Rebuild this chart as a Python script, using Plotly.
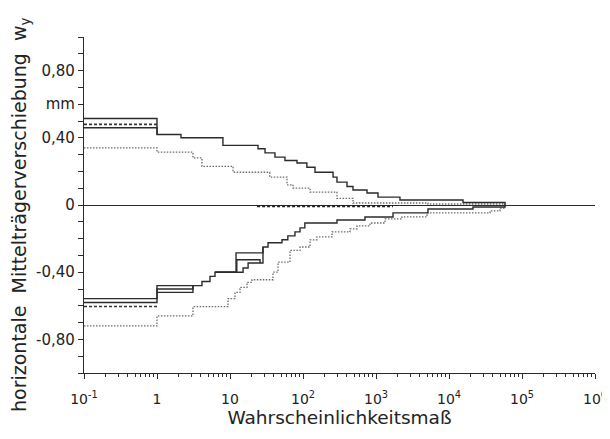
import plotly.graph_objects as go

# ---------------- data ----------------
# upper envelope, solid main curve
up_solid_x = [0.1, 1, 2.13, 8.0, 24.2, 30.2, 41.3, 56.6, 82.8, 113, 146, 258, 292, 401, 484, 753, 1065, 2130, 15560, 58500]
up_solid_y = [0.46, 0.42, 0.40, 0.355, 0.335, 0.31, 0.285, 0.265, 0.25, 0.225, 0.195, 0.166, 0.136, 0.11, 0.089, 0.071, 0.047, 0.03, 0.015, 0.0]
# upper envelope, second solid curve (differs only at start)
up_solid2_x = [0.1, 1]
up_solid2_y = [0.515, 0.42]
# upper envelope, dark dotted (start only)
up_dot2_x = [0.1, 1]
up_dot2_y = [0.48, 0.48]
# upper envelope, dotted curve
up_dot_x = [0.1, 1, 3.11, 4.13, 11.0, 35, 60.4, 73, 125, 292, 484, 5150, 58500]
up_dot_y = [0.34, 0.315, 0.28, 0.23, 0.195, 0.166, 0.12, 0.10, 0.077, 0.04, 0.012, 0.006, 0.0]

# lower envelope, solid main curve
lo_solid_x = [0.1, 1, 4.13, 5.32, 6.23, 15.1, 17.7, 28.3, 33.2, 51.5, 62, 77.6, 91, 106, 292, 706, 1710, 5150, 21300, 58500]
lo_solid_y = [-0.557, -0.48, -0.455, -0.425, -0.40, -0.375, -0.345, -0.25, -0.225, -0.207, -0.184, -0.16, -0.136, -0.107, -0.089, -0.071, -0.047, -0.024, -0.012, 0.0]
# lower envelope, second / third curves (deviating pieces)
lo_solid2_x = [0.1, 1, 3.11, None, 6.23, 12.1, 28.3]
lo_solid2_y = [-0.58, -0.50, -0.48, None, -0.40, -0.285, -0.25]
lo_solid3_x = [1, 3.11, None, 6.23, 12.4, 25.8]
lo_solid3_y = [-0.52, -0.48, None, -0.40, -0.326, -0.345]
lo_dot2_x = [0.1, 1]
lo_dot2_y = [-0.604, -0.604]
# lower envelope, dotted curve
lo_dot_x = [0.1, 1, 3.11, 9.4, 11.7, 13.7, 17.1, 20.0, 38.8, 45.5, 66.4, 91, 125, 155, 250, 440, 550, 828, 1330, 2270, 5000, 36500, 50000, 58500]
lo_dot_y = [-0.72, -0.66, -0.605, -0.557, -0.52, -0.49, -0.46, -0.445, -0.40, -0.34, -0.27, -0.25, -0.207, -0.19, -0.16, -0.142, -0.124, -0.107, -0.083, -0.071, -0.047, -0.035, -0.018, 0.0]
# dark dotted curve lying just under the zero line
near_zero_x = [23.5, 1710]
near_zero_y = [-0.008, -0.008]

# axis ticks
x_major = [0.1, 1, 10, 100, 1e3, 1e4, 1e5, 1e6]
x_labels = ["10<sup>-1</sup>", "1", "10", "10<sup>2</sup>", "10<sup>3</sup>",
            "10<sup>4</sup>", "10<sup>5</sup>", "10<sup>6</sup>"]
y_ticks = [round(-1 + 0.1 * i, 1) for i in range(21)]
y_label_map = {0.8: "0,80", 0.6: "mm", 0.4: "0,40", 0.0: "0", -0.4: "-0,40", -0.8: "-0,80"}
x_title = "Wahrscheinlichkeitsmaß"
y_title = "horizontale  Mittelträgerverschiebung  w<sub>y</sub>"

# ---------------- figure ----------------
INK = "#2b2b2b"
DOT = "#6a6a6a"
TXT = "#222222"
FONT = "DejaVu Sans"

fig = go.Figure()


def add(x, y, color, width, dash):
    fig.add_trace(go.Scatter(x=x, y=y, mode="lines", line_shape="hv",
                             line=dict(color=color, width=width, dash=dash),
                             showlegend=False, hoverinfo="skip", connectgaps=False))


add(up_dot_x, up_dot_y, DOT, 1.3, "1.5px,1.5px")
add(lo_dot_x, lo_dot_y, DOT, 1.3, "1.5px,1.5px")
add(up_dot2_x, up_dot2_y, "#333333", 1.6, "3px,2px")
add(lo_dot2_x, lo_dot2_y, "#333333", 1.6, "3px,2px")
add(near_zero_x, near_zero_y, "#222222", 2.0, "3px,2px")
add(up_solid_x, up_solid_y, INK, 1.4, "solid")
add(up_solid2_x, up_solid2_y, INK, 1.4, "solid")
add(lo_solid_x, lo_solid_y, INK, 1.4, "solid")
add(lo_solid2_x, lo_solid2_y, INK, 1.4, "solid")
add(lo_solid3_x, lo_solid3_y, INK, 1.4, "solid")

x_minor = [m * d for d in [0.1, 1, 10, 100, 1e3, 1e4, 1e5] for m in range(2, 10)]

fig.update_layout(
    width=602, height=423,
    margin=dict(l=76, r=15, t=29, b=58),
    paper_bgcolor="white", plot_bgcolor="white",
    font=dict(family=FONT, size=14, color=TXT),
    xaxis=dict(
        type="log", range=[-1, 6], automargin=False,
        tickmode="array", tickvals=x_major, ticktext=x_labels,
        ticks="outside", ticklen=5, tickcolor=INK, tickwidth=1,
        ticklabelstandoff=8,
        minor=dict(tickmode="array", tickvals=x_minor, ticks="outside", ticklen=3, tickcolor=INK),
        showline=True, linecolor=INK, linewidth=1.2,
        showgrid=False, zeroline=False,
        tickfont=dict(family=FONT, size=14, color=TXT),
        title=dict(text=x_title, font=dict(family=FONT, size=18.5, color=TXT), standoff=5),
    ),
    yaxis=dict(
        range=[-1, 1], automargin=False,
        tickmode="array", tickvals=y_ticks,
        ticktext=[y_label_map.get(v, "") for v in y_ticks],
        ticks="outside", ticklen=5, tickcolor=INK, tickwidth=1,
        showline=True, linecolor=INK, linewidth=1.2,
        showgrid=False,
        zeroline=True, zerolinecolor=INK, zerolinewidth=1.2,
        tickfont=dict(family=FONT, size=15, color=TXT),
    ),
    annotations=[dict(
        text=y_title, textangle=-90, showarrow=False,
        xref="paper", yref="paper", x=0, y=0.5, xanchor="center", yanchor="middle",
        xshift=-64, yshift=-10,
        font=dict(family=FONT, size=19, color=TXT),
    )],
)

fig.write_html("out.html")
